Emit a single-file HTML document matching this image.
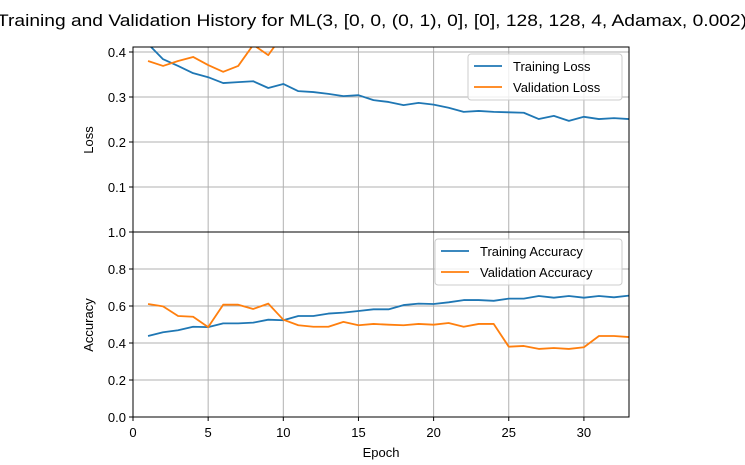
<!DOCTYPE html>
<html><head><meta charset="utf-8"><style>
body{margin:0;background:#fff;}
text{font-family:"Liberation Sans","DejaVu Sans",sans-serif;fill:#000;}
</style></head><body>
<svg id="chart" width="745" height="460" xmlns="http://www.w3.org/2000/svg">
<text x="-3" y="26" font-size="17" textLength="750" lengthAdjust="spacingAndGlyphs">Training and Validation History for ML(3, [0, 0, (0, 1), 0], [0], 128, 128, 4, Adamax, 0.002)</text>
<g id="g"></g>
</svg>
<script>
const epochs = [1,2,3,4,5,6,7,8,9,10,11,12,13,14,15,16,17,18,19,20,21,22,23,24,25,26,27,28,29,30,31,32,33];
const trainLoss = [0.418,0.384,0.369,0.353,0.344,0.331,0.333,0.335,0.320,0.329,0.313,0.311,0.307,0.302,0.304,0.293,0.289,0.282,0.287,0.283,0.276,0.267,0.269,0.267,0.266,0.265,0.251,0.258,0.247,0.256,0.251,0.253,0.251];
const valLoss = [0.380,0.369,0.380,0.389,0.371,0.356,0.369,0.416,0.393,0.440,0.460,0.470,0.480,0.490,0.500,0.510,0.520,0.530,0.540,0.550,0.560,0.570,0.580,0.590,0.650,0.660,0.670,0.680,0.690,0.700,0.690,0.700,0.710];
const trainAcc = [0.438,0.458,0.469,0.488,0.486,0.506,0.506,0.510,0.526,0.523,0.546,0.546,0.559,0.564,0.573,0.582,0.582,0.605,0.613,0.611,0.620,0.632,0.632,0.628,0.640,0.640,0.654,0.645,0.654,0.645,0.654,0.647,0.656];
const valAcc = [0.611,0.598,0.546,0.542,0.486,0.607,0.607,0.584,0.613,0.526,0.496,0.488,0.488,0.514,0.496,0.503,0.499,0.496,0.503,0.499,0.508,0.488,0.503,0.503,0.380,0.384,0.368,0.373,0.368,0.377,0.438,0.438,0.432];
const xTicks = [0,5,10,15,20,25,30];
const lossTicks = [0.1,0.2,0.3,0.4];
const accTicks = [0.0,0.2,0.4,0.6,0.8,1.0];

const NS="http://www.w3.org/2000/svg";
const g=document.getElementById('g');
const L=133,R=629;
const xs=v=>L+(v-0)*(R-L)/33;
const yLoss=v=>232-v*450;
const yAcc=v=>417-v*185;
function mk(t,a){const e=document.createElementNS(NS,t);for(const k in a)e.setAttribute(k,a[k]);g.appendChild(e);return e;}
const defs=mk('defs',{});
const cp=document.createElementNS(NS,'clipPath');cp.setAttribute('id','c1');
const cr=document.createElementNS(NS,'rect');cr.setAttribute('x',L);cr.setAttribute('y',47);cr.setAttribute('width',R-L);cr.setAttribute('height',185);
cp.appendChild(cr);defs.appendChild(cp);
xTicks.forEach(t=>{
 [[47,232],[232,417]].forEach(([a,b])=>{
  const l=mk('line',{x1:xs(t),x2:xs(t),y1:a,y2:b,stroke:'#b0b0b0','stroke-width':1});
  
  
 });
 const tk=mk('line',{x1:xs(t),x2:xs(t),y1:417,y2:421,stroke:'#000'});
 
 
 const tx=mk('text',{x:xs(t),y:437,'text-anchor':'middle','font-size':13});tx.textContent=t;
 
 
});
lossTicks.forEach(t=>{
 const l=mk('line',{x1:L,x2:R,y1:yLoss(t),y2:yLoss(t),stroke:'#b0b0b0'});
 
 
 mk('line',{x1:L-4,x2:L,y1:yLoss(t),y2:yLoss(t),stroke:'#000'});
 const tx=mk('text',{x:L-7,y:yLoss(t)+5,'text-anchor':'end','font-size':13});tx.textContent=t.toFixed(1);
 
 
});
accTicks.forEach(t=>{
 const l=mk('line',{x1:L,x2:R,y1:yAcc(t),y2:yAcc(t),stroke:'#b0b0b0'});
 
 
 mk('line',{x1:L-4,x2:L,y1:yAcc(t),y2:yAcc(t),stroke:'#000'});
 const tx=mk('text',{x:L-7,y:yAcc(t)+5,'text-anchor':'end','font-size':13});tx.textContent=t.toFixed(1);
 
 
});
function line(data,fy,color,name,clip){
 const p=mk('polyline',{points:data.map((v,i)=>xs(epochs[i])+','+fy(v)).join(' '),fill:'none',stroke:color,'stroke-width':1.8,'stroke-linejoin':'round'});
 if(clip)p.setAttribute('clip-path','url(#c1)');
 
 
}
line(trainLoss,yLoss,'#1f77b4','training-loss-line',true);
line(valLoss,yLoss,'#ff7f0e','validation-loss-line',true);
line(trainAcc,yAcc,'#1f77b4','training-accuracy-line',false);
line(valAcc,yAcc,'#ff7f0e','validation-accuracy-line',false);
[[47,232],[232,417]].forEach(([a,b])=>{
 const r=mk('rect',{x:L,y:a,width:R-L,height:b-a,fill:'none',stroke:'#000','stroke-width':1});
 
 
});
function legend(x,y,w,items,name){
 const r=mk('rect',{x:x,y:y,width:w,height:46,rx:3,fill:'#fff','fill-opacity':0.8,stroke:'#ccc'});
 
 
 items.forEach((it,i)=>{
  const yy=y+12+i*21;
  mk('line',{x1:x+6,x2:x+34,y1:yy,y2:yy,stroke:it[1],'stroke-width':1.8});
  const t=mk('text',{x:x+45,y:yy+5,'font-size':13});t.textContent=it[0];
  
  
 });
}
legend(468,54,154,[['Training Loss','#1f77b4'],['Validation Loss','#ff7f0e']],'loss-legend');
legend(435,239,187,[['Training Accuracy','#1f77b4'],['Validation Accuracy','#ff7f0e']],'accuracy-legend');
const yl=mk('text',{x:0,y:0,'font-size':13,'text-anchor':'middle',transform:'translate(93,140) rotate(-90)'});yl.textContent='Loss';


const ya=mk('text',{x:0,y:0,'font-size':13,'text-anchor':'middle',transform:'translate(93,325) rotate(-90)'});ya.textContent='Accuracy';


const xl=mk('text',{x:381,y:457,'font-size':13,'text-anchor':'middle'});xl.textContent='Epoch';


</script>
</body></html>
